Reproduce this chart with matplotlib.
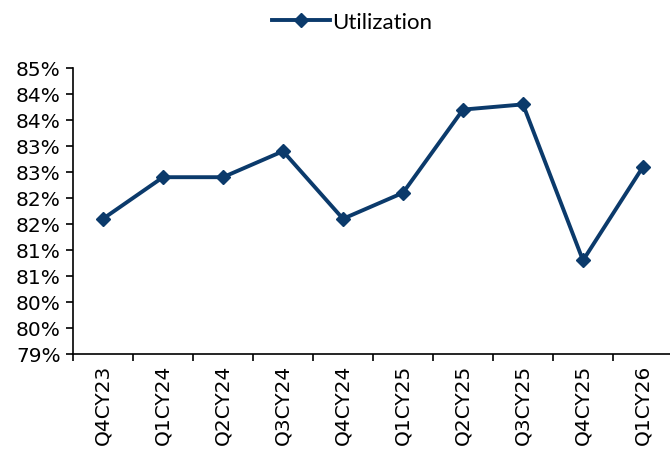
import matplotlib.pyplot as plt
from matplotlib.ticker import FuncFormatter
import numpy as np

plt.rcParams['font.family'] = ['DejaVu Sans']

# Data ----------------------------------------------------------------------
quarters    = ['Q4CY23', 'Q1CY24', 'Q2CY24', 'Q3CY24', 'Q4CY24',
               'Q1CY25', 'Q2CY25', 'Q3CY25', 'Q4CY25', 'Q1CY26']
utilization = [81.6, 82.4, 82.4, 82.9, 81.6, 82.1, 83.7, 83.8, 80.8, 82.6]
yTicks      = np.arange(79.0, 84.51, 0.5)
# ---------------------------------------------------------------------------

navy = '#0b3a6b'

fig = plt.figure(figsize=(6.7, 4.52), dpi=100)
ax = fig.add_axes([73/670, 1 - 355/452, 600/670, 286/452])

x = np.arange(len(quarters))
ax.plot(x, utilization, color=navy, lw=2.8, marker='D', markersize=7,
        label='Utilization')

ax.set_xlim(-0.5, len(quarters) - 0.5)
ax.set_ylim(yTicks[0], yTicks[-1])
ax.set_yticks(yTicks)
# Excel-style rounding (half up) for the percent labels
ax.yaxis.set_major_formatter(FuncFormatter(lambda v, p: '%d%%' % int(np.floor(v + 0.5))))

ax.set_xticks(np.arange(len(quarters) + 1) - 0.5)
ax.set_xticklabels([])
ax.set_xticks(x, minor=True)
ax.set_xticklabels(quarters, minor=True, rotation=90, fontsize=14.5)
ax.tick_params(axis='x', which='minor', length=0, pad=7)
ax.tick_params(axis='x', which='major', length=5, width=1.2, direction='out')
ax.tick_params(axis='y', length=5, width=1.2, direction='out', labelsize=14.5, pad=4)

for s in ['top', 'right']:
    ax.spines[s].set_visible(False)
for s in ['left', 'bottom']:
    ax.spines[s].set_linewidth(1.2)

fig.legend(loc='upper center', bbox_to_anchor=(0.525, 1.015), frameon=False,
           handlelength=2.6, handletextpad=0.1,
           prop={'family': 'Lato', 'size': 16})

fig.savefig('out.png', dpi=100)
